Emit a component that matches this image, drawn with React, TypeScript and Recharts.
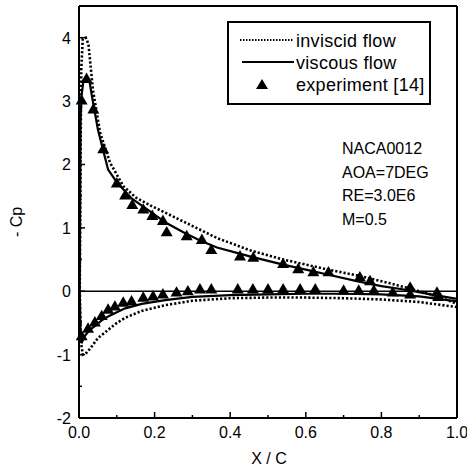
import { ComposedChart, Line, Scatter, XAxis, YAxis, ZAxis, ReferenceLine, Legend, Customized } from "recharts";

// [x/c, -Cp] pairs, leading edge -> trailing edge
const inviscidUpper = [
  [0.002, 0.0], [0.004, 2.0], [0.006, 3.5], [0.01, 3.98], [0.018, 4.0], [0.025, 3.9],
  [0.037, 3.17], [0.056, 2.5], [0.082, 2.03], [0.117, 1.66], [0.15, 1.48], [0.19, 1.35],
  [0.276, 1.1], [0.365, 0.84], [0.45, 0.65], [0.54, 0.5], [0.6, 0.42], [0.66, 0.34],
  [0.735, 0.25], [0.82, 0.13], [0.9, 0.0], [0.95, -0.08], [1.0, -0.2],
];
const inviscidLower = [
  [0.002, 0.0], [0.005, -0.8], [0.01, -1.0], [0.02, -0.97], [0.03, -0.9], [0.05, -0.74],
  [0.077, -0.61], [0.1, -0.5], [0.122, -0.42], [0.166, -0.31], [0.228, -0.22], [0.3, -0.15],
  [0.4, -0.11], [0.5, -0.1], [0.6, -0.1], [0.7, -0.11], [0.8, -0.13], [0.9, -0.17], [1.0, -0.25],
];
const viscousUpper = [
  [0.002, 0.0], [0.004, 2.7], [0.007, 3.1], [0.012, 3.33], [0.02, 3.37], [0.028, 3.3],
  [0.035, 3.05], [0.05, 2.55], [0.064, 2.22], [0.077, 1.92], [0.1, 1.72], [0.14, 1.46],
  [0.188, 1.26], [0.23, 1.08], [0.276, 0.93], [0.32, 0.8], [0.365, 0.69], [0.452, 0.55],
  [0.54, 0.42], [0.6, 0.34], [0.66, 0.26], [0.735, 0.16], [0.8, 0.08], [0.868, 0.02],
  [0.93, -0.05], [1.0, -0.12],
];
const viscousLower = [
  [0.002, 0.0], [0.004, -0.75], [0.008, -0.8], [0.016, -0.7], [0.03, -0.6], [0.042, -0.55],
  [0.06, -0.46], [0.077, -0.4], [0.1, -0.33], [0.122, -0.27], [0.166, -0.2], [0.228, -0.14],
  [0.3, -0.09], [0.4, -0.06], [0.5, -0.05], [0.6, -0.04], [0.7, -0.04], [0.8, -0.05],
  [0.9, -0.08], [1.0, -0.16],
];
const experimentUpper = [
  [0.007, 3.0], [0.02, 3.34], [0.038, 2.86], [0.064, 2.23], [0.1, 1.69], [0.122, 1.5],
  [0.141, 1.35], [0.17, 1.28], [0.194, 1.18], [0.222, 1.1], [0.232, 0.92], [0.285, 0.86],
  [0.325, 0.8], [0.35, 0.64], [0.426, 0.54], [0.461, 0.52], [0.54, 0.42], [0.58, 0.34],
  [0.62, 0.29], [0.66, 0.29], [0.743, 0.21], [0.77, 0.15], [0.876, 0.05], [0.947, -0.03],
];
const experimentLower = [
  [0.007, -0.72], [0.024, -0.6], [0.042, -0.5], [0.06, -0.4], [0.077, -0.3], [0.095, -0.25],
  [0.117, -0.19], [0.139, -0.17], [0.17, -0.11], [0.196, -0.09], [0.222, -0.06], [0.258, -0.03],
  [0.288, -0.01], [0.32, 0.02], [0.35, 0.02], [0.42, 0.02], [0.46, 0.02], [0.5, 0.02],
  [0.54, 0.02], [0.585, 0.02], [0.625, 0.02], [0.7, 0.0], [0.74, 0.0], [0.78, 0.0],
  [0.83, -0.03], [0.876, -0.06], [0.95, -0.1],
];

const xTicks = [0, 0.1, 0.2, 0.3, 0.4, 0.5, 0.6, 0.7, 0.8, 0.9, 1.0];
const yTicks = [-2, -1.5, -1, -0.5, 0, 0.5, 1, 1.5, 2, 2.5, 3, 3.5, 4];
const notes = ["NACA0012", "AOA=7DEG", "RE=3.0E6", "M=0.5"];

const pts = (a: number[][]) => a.map(([x, y]) => ({ x, y }));
// closed loop: trailing edge (lower) -> leading edge -> trailing edge (upper)
const loop = (lower: number[][], upper: number[][]) => pts([...lower].reverse().concat(upper.slice(1)));

const FONT = "'Liberation Sans', Arial, sans-serif";

function XTick(props: any) {
  const { x, y, payload } = props;
  const v = payload.value as number;
  const major = Math.round(v * 10) % 2 === 0;
  return (
    <g>
      <line x1={x} x2={x} y1={y} y2={y - (major ? 6 : 3)} stroke="#000" strokeWidth={1.5} />
      {major && (
        <text x={x} y={y + 20} textAnchor="middle" fontSize={16} fill="#000">
          {v.toFixed(1)}
        </text>
      )}
    </g>
  );
}

function YTick(props: any) {
  const { x, y, payload } = props;
  const v = payload.value as number;
  const major = Number.isInteger(v);
  return (
    <g>
      <line x1={x} x2={x + (major ? 6 : 3)} y1={y} y2={y} stroke="#000" strokeWidth={1.5} />
      {major && (
        <text x={x - 8} y={y + 6} textAnchor="end" fontSize={16} fill="#000">
          {v}
        </text>
      )}
    </g>
  );
}

function LegendBox() {
  return (
    <svg width={204} height={84} style={{ display: "block", fontFamily: FONT }}>
      <rect x={1} y={1} width={202} height={82} fill="#fff" stroke="#000" strokeWidth={2} />
      <line x1={13} x2={67} y1={19} y2={19} stroke="#000" strokeWidth={2} strokeDasharray="1.5 1.5" />
      <text x={69} y={25.5} fontSize={18} letterSpacing={0.3}>inviscid flow</text>
      <line x1={15} x2={67} y1={41} y2={41} stroke="#000" strokeWidth={1.8} />
      <text x={69} y={47.5} fontSize={18} letterSpacing={0.3}>viscous flow</text>
      <path d="M35 58 L41 68 L29 68 Z" fill="#000" />
      <text x={69} y={70} fontSize={18} letterSpacing={0.3}>experiment [14]</text>
    </svg>
  );
}

function Annotations() {
  return (
    <g fontFamily={FONT} fill="#000">
      {notes.map((t, i) => (
        <text key={t} x={342} y={154 + i * 23.5} fontSize={16}>
          {t}
        </text>
      ))}
      <text transform="translate(22,222) rotate(-90)" textAnchor="middle" fontSize={16}>
        - Cp
      </text>
      <text x={269} y={464} textAnchor="middle" fontSize={16}>
        X / C
      </text>
    </g>
  );
}

export default function App() {
  return (
    <div style={{ position: "absolute", left: 0, top: 0, fontFamily: FONT, background: "#fff" }}>
      <ComposedChart width={467} height={476} margin={{ top: 6, right: 10, left: 0, bottom: 0 }}>
        <XAxis
          type="number"
          dataKey="x"
          domain={[0, 1]}
          ticks={xTicks}
          tick={<XTick />}
          tickLine={false}
          tickSize={0}
          tickMargin={0}
          height={58}
          axisLine={{ stroke: "#000", strokeWidth: 2 }}
          interval={0}
        />
        <YAxis
          type="number"
          dataKey="y"
          domain={[-2, 4.5]}
          ticks={yTicks}
          tick={<YTick />}
          tickLine={false}
          tickSize={0}
          tickMargin={0}
          width={79}
          axisLine={{ stroke: "#000", strokeWidth: 2 }}
          interval={0}
        />
        <ZAxis range={[62, 62]} />
        <ReferenceLine y={4.5} stroke="#000" strokeWidth={2} />
        <ReferenceLine x={1} stroke="#000" strokeWidth={2} />
        <ReferenceLine y={0} stroke="#000" strokeWidth={1.5} />
        <Line
          data={loop(inviscidLower, inviscidUpper)}
          dataKey="y"
          type="linear"
          stroke="#000"
          strokeWidth={2.6}
          strokeDasharray="2.2 2"
          dot={false}
          isAnimationActive={false}
        />
        <Line
          data={loop(viscousLower, viscousUpper)}
          dataKey="y"
          type="linear"
          stroke="#000"
          strokeWidth={2.2}
          dot={false}
          isAnimationActive={false}
        />
        <Scatter data={pts(experimentUpper)} shape="triangle" fill="#000" isAnimationActive={false} />
        <Scatter data={pts(experimentLower)} shape="triangle" fill="#000" isAnimationActive={false} />
        <Legend
          layout="vertical"
          align="center"
          verticalAlign="middle"
          content={() => <LegendBox />}
          wrapperStyle={{ left: 227, top: 21, width: 204, height: 84 }}
        />
        <Customized component={Annotations} />
      </ComposedChart>
    </div>
  );
}
